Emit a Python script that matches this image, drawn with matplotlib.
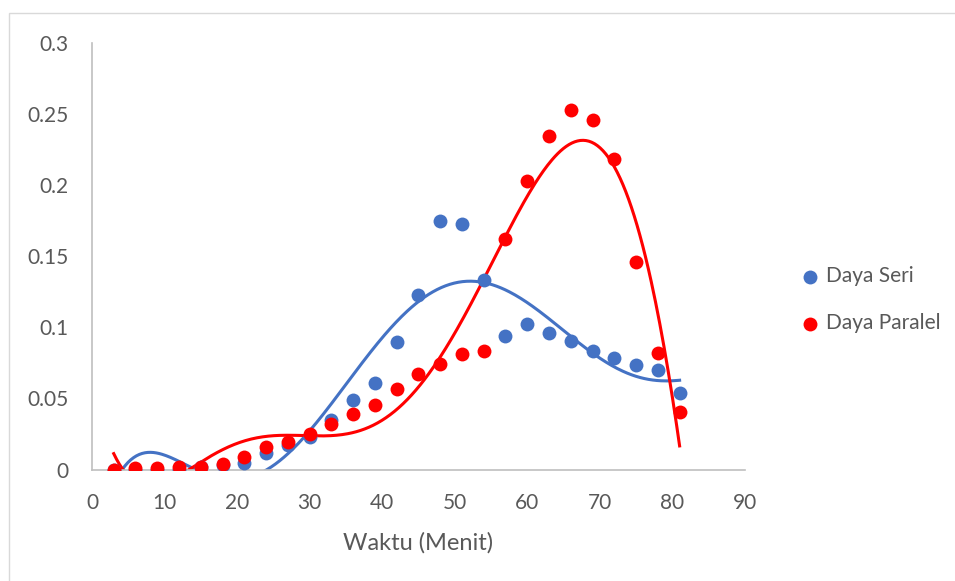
import numpy as np
import matplotlib
matplotlib.use('Agg')
import matplotlib.pyplot as plt
from matplotlib.patches import Rectangle

# Waktu (menit) and measured power for both configurations
waktu = [3, 6, 9, 12, 15, 18, 21, 24, 27, 30, 33, 36, 39, 42,
         45, 48, 51, 54, 57, 60, 63, 66, 69, 72, 75, 78, 81]
daya_seri = [0.0, 0.0, 0.0, 0.0, 0.002, 0.003, 0.0044, 0.0114, 0.017,
             0.023, 0.0345, 0.0486, 0.061, 0.0897, 0.123, 0.175, 0.1725,
             0.1336, 0.0937, 0.1026, 0.0963, 0.0901, 0.0833, 0.0786,
             0.0732, 0.0697, 0.054]
daya_paralel = [0.0, 0.001, 0.001, 0.0015, 0.002, 0.004, 0.0086, 0.0157,
                0.019, 0.0248, 0.0317, 0.0392, 0.0455, 0.0563, 0.0674,
                0.0744, 0.081, 0.0836, 0.162, 0.203, 0.2345, 0.2528,
                0.2458, 0.2183, 0.1458, 0.0819, 0.0404]

BLUE = '#4472C4'
RED = '#FF0000'
GREY_TXT = '#595959'

plt.rcParams['font.family'] = ['Lato', 'DejaVu Sans']

fig = plt.figure(figsize=(9.55, 5.81), dpi=100)
ax = fig.add_axes([0.0963, 0.1919, 0.6837, 0.7341])

# outer chart border (Excel chart area)
fig.patches.append(Rectangle((9 / 955, -0.1), 1.2, 1 - 13 / 581 + 0.1,
                             transform=fig.transFigure, fill=False,
                             edgecolor='#d9d9d9', linewidth=1.0))

# 6th order polynomial trendlines, as in the Excel chart
x = np.array(waktu, dtype=float)
xs = np.linspace(x.min(), x.max(), 400)
for y, col in [(daya_seri, BLUE), (daya_paralel, RED)]:
    coef = np.polyfit(x, np.array(y), 6)
    ax.plot(xs, np.polyval(coef, xs), color=col, lw=2.2, zorder=2)

ax.scatter(waktu, daya_seri, s=100, color=BLUE, label='Daya Seri',
           zorder=3, linewidths=0)
ax.scatter(waktu, daya_paralel, s=100, color=RED, label='Daya Paralel',
           zorder=4, linewidths=0)

ax.set_xlim(0, 90)
ax.set_ylim(0, 0.3)
ax.set_xticks(range(0, 91, 10))
ax.set_yticks([0, 0.05, 0.1, 0.15, 0.2, 0.25, 0.3])
ax.set_yticklabels(['0', '0.05', '0.1', '0.15', '0.2', '0.25', '0.3'])
ax.tick_params(length=0, labelsize=15, labelcolor=GREY_TXT)
ax.tick_params(axis='x', pad=17)
ax.tick_params(axis='y', pad=17)
for s in ['top', 'right']:
    ax.spines[s].set_visible(False)
for s in ['left', 'bottom']:
    ax.spines[s].set_color('#bfbfbf')
    ax.spines[s].set_linewidth(1.2)
ax.set_xlabel('Waktu (Menit)', fontsize=17, color=GREY_TXT, labelpad=14)

ax.legend(loc='center left', bbox_to_anchor=(0.8308, 0.484),
          bbox_transform=fig.transFigure, frameon=False, fontsize=15,
          labelcolor=GREY_TXT, handlelength=0.8, handletextpad=0.35,
          labelspacing=1.3, markerscale=1.0, borderaxespad=0)

fig.savefig('out.png', dpi=100)
